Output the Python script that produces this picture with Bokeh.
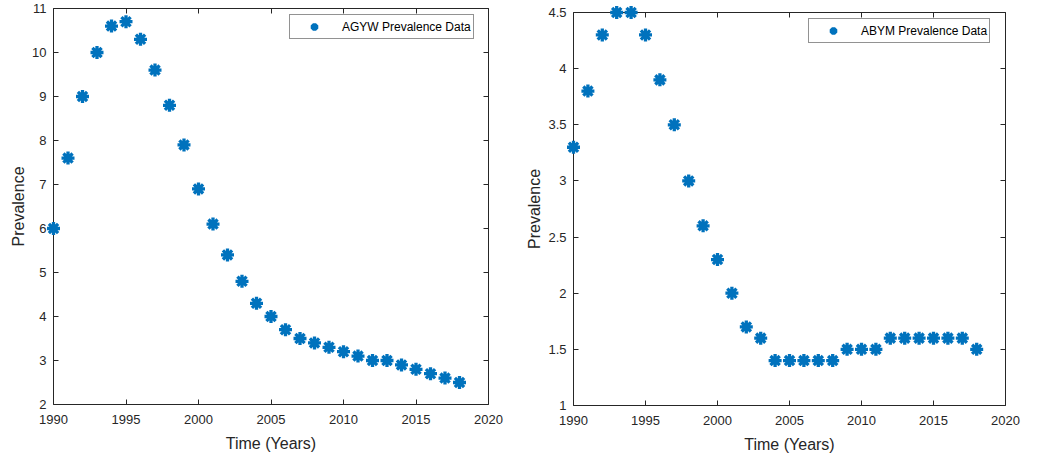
from bokeh.plotting import figure
from bokeh.layouts import row, column
from bokeh.models import (LinearAxis, FixedTicker, CustomJSTickFormatter, Range1d,
                          Legend, LegendItem, ColumnDataSource, Spacer)
from bokeh.embed import file_html
from bokeh.resources import INLINE

years = list(range(1990, 2019))
agyw = [6.0, 7.6, 9.0, 10.0, 10.6, 10.7, 10.3, 9.6, 8.8, 7.9, 6.9, 6.1, 5.4, 4.8, 4.3,
        4.0, 3.7, 3.5, 3.4, 3.3, 3.2, 3.1, 3.0, 3.0, 2.9, 2.8, 2.7, 2.6, 2.5]
abym = [3.3, 3.8, 4.3, 4.5, 4.5, 4.3, 3.9, 3.5, 3.0, 2.6, 2.3, 2.0, 1.7, 1.6, 1.4,
        1.4, 1.4, 1.4, 1.4, 1.5, 1.5, 1.5, 1.6, 1.6, 1.6, 1.6, 1.6, 1.6, 1.5]
x_ticks = [1990, 1995, 2000, 2005, 2010, 2015, 2020]
agyw_ticks = [2, 3, 4, 5, 6, 7, 8, 9, 10, 11]
abym_ticks = [1, 1.5, 2, 2.5, 3, 3.5, 4, 4.5]

FONT = "Liberation Sans"
TXT = "#262626"
BLUE = "#0072BD"


def style_axis(ax, ticks, labels=True):
    ax.ticker = FixedTicker(ticks=ticks)
    ax.axis_line_color = TXT
    ax.major_tick_line_color = TXT
    ax.major_tick_in = 5
    ax.major_tick_out = 0
    ax.minor_tick_line_color = None
    ax.major_label_text_font = FONT
    ax.major_label_text_font_size = "13px"
    ax.major_label_text_color = TXT
    ax.axis_label_text_font = FONT
    ax.axis_label_text_font_size = "16px"
    ax.axis_label_text_font_style = "normal"
    ax.axis_label_text_color = TXT
    if not labels:
        ax.formatter = CustomJSTickFormatter(code="return ''")
        ax.major_label_text_font_size = "0px"
        ax.major_label_standoff = 0


def make(y, yticks, yr, label, fw, fh, ml, mr, mt, mb, leg_loc):
    p = figure(frame_width=fw, frame_height=fh, output_backend="svg",
               toolbar_location=None, x_range=Range1d(1990, 2020),
               y_range=Range1d(*yr), min_border_left=ml, min_border_right=mr,
               min_border_top=mt, min_border_bottom=mb)
    p.title.visible = False
    p.outline_line_color = None
    p.grid.visible = False
    p.background_fill_color = "white"
    p.border_fill_color = "white"
    src = ColumnDataSource(dict(x=years, y=y))
    r = p.scatter("x", "y", source=src, marker="asterisk", size=13,
                  line_color=BLUE, line_width=3.3, level="overlay")
    style_axis(p.xaxis[0], x_ticks)
    style_axis(p.yaxis[0], yticks)
    p.xaxis[0].axis_label = "Time (Years)"
    p.xaxis[0].major_label_standoff = 10
    p.xaxis[0].axis_label_standoff = 8
    p.yaxis[0].axis_label = "Prevalence"
    p.yaxis[0].major_label_standoff = 7
    p.yaxis[0].axis_label_standoff = 2
    top = LinearAxis()
    style_axis(top, x_ticks, labels=False)
    right = LinearAxis()
    style_axis(right, yticks, labels=False)
    p.add_layout(top, "above")
    p.add_layout(right, "right")
    leg = Legend(items=[LegendItem(label=label, renderers=[r])], location=leg_loc,
                 orientation="vertical")
    leg.label_text_font = FONT
    leg.label_text_font_size = "12px"
    leg.label_text_color = "#000000"
    leg.border_line_color = TXT
    leg.border_line_width = 1
    leg.background_fill_color = "white"
    leg.background_fill_alpha = 1
    leg.padding = 2
    leg.spacing = 0
    leg.margin = 0
    leg.glyph_width = 44
    leg.glyph_height = 19
    leg.label_height = 19
    leg.label_standoff = 6
    p.add_layout(leg, "center")
    return p


p1 = make(agyw, agyw_ticks, (2, 11), "AGYW Prevalence Data", 435, 396, 53, 31, 8, 56, (236, 365))
p2 = make(abym, abym_ticks, (1, 4.5), "ABYM Prevalence Data", 432, 393, 54, 34, 8, 55, (235, 362))

layout = row(column(p1), column(Spacer(width=10, height=4), p2))
open("out.html", "w").write(file_html(layout, INLINE))
